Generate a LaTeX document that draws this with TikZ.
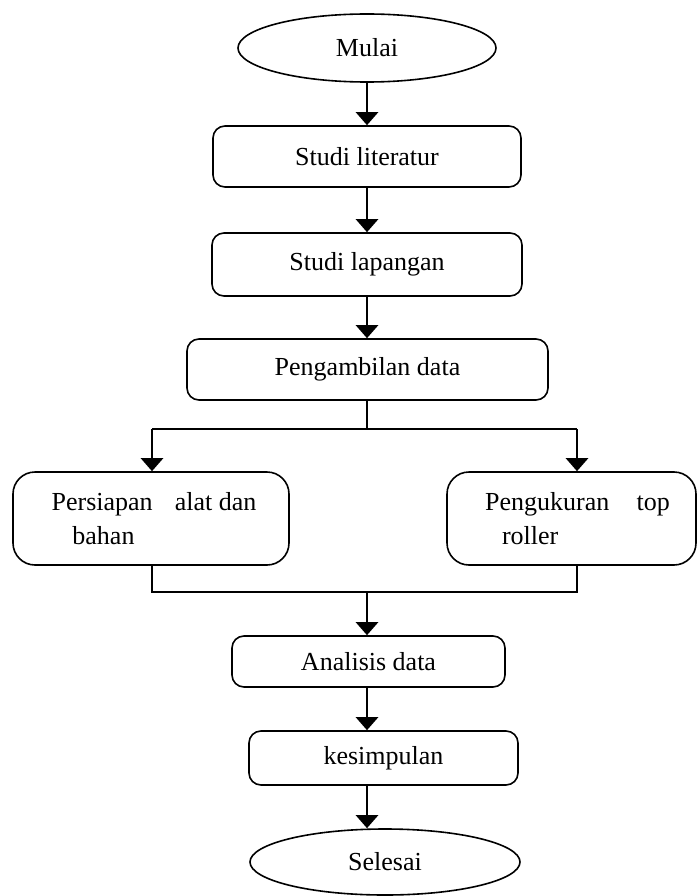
\documentclass[tikz,border=0pt]{standalone}
\usepackage{fontspec}
\setmainfont{Liberation Serif}
\usetikzlibrary{shapes.geometric, arrows.meta}
\tikzstyle{every node}=[font=\fontsize{26}{34}\selectfont, inner sep=0pt]
\tikzstyle{terminal}=[ellipse, draw, line width=1.6pt]
\tikzstyle{process}=[rectangle, rounded corners=12pt, draw, line width=1.6pt]
\tikzstyle{branch}=[rectangle, rounded corners=22pt, draw, line width=1.6pt, align=left]
\tikzstyle{flow}=[line width=2.6pt, -{Triangle[width=22pt, length=13pt]}]
\tikzstyle{link}=[line width=1.6pt]

\begin{document}
\begin{tikzpicture}[x=1pt, y=-1pt]
    \useasboundingbox (0,0) rectangle (697,896);
% Terminals
    \node[terminal, minimum width=258pt, minimum height=68pt] (mulai) at (367,48) {Mulai};
    \node[terminal, minimum width=270pt, minimum height=66pt] (selesai) at (385,862) {Selesai};
% Process boxes
    \node[process, minimum width=308pt, minimum height=61pt] (literatur) at (367,156.5) {Studi literatur};
    \node[process, minimum width=310pt, minimum height=63pt] (lapangan) at (367,264.5) {Studi lapangan};
    \node[process, minimum width=361pt, minimum height=61pt] (ambil) at (367.5,369.5) {Pengambilan data};
    \node[branch, minimum width=276pt, minimum height=93pt] (persiapan) at (151,518.5)
        {\hspace*{6pt}Persiapan\hspace{0.85em}alat dan\\\hspace*{6pt}\hspace*{0.8em}bahan};
    \node[branch, minimum width=249pt, minimum height=93pt] (ukur) at (571.5,518.5)
        {\hspace*{12pt}Pengukuran\hspace{1.05em}top\\\hspace*{12pt}\hspace*{0.65em}roller};
    \node[process, minimum width=273pt, minimum height=51pt] (analisis) at (368.5,661.5) {Analisis data};
    \node[process, minimum width=269pt, minimum height=54pt] (kesimpulan) at (383.5,758) {kesimpulan};
% Junction points
    \coordinate (pisah) at (367,429);
    \coordinate (kiri) at (152,429);
    \coordinate (kanan) at (577,429);
    \coordinate (gabung) at (367,592);
% Flow arrows
    \draw[flow] (mulai) -- (literatur);
    \draw[flow] (literatur) -- (lapangan);
    \draw[flow] (lapangan) -- (ambil.north -| lapangan);
    \draw[link] (ambil.south -| pisah) -- (pisah);
    \draw[link] (kiri) -- (kanan);
    \draw[flow] (kiri) -- (persiapan.north -| kiri);
    \draw[flow] (kanan) -- (ukur.north -| kanan);
    \draw[link] (persiapan.south -| kiri) |- (gabung) -| (ukur.south -| kanan);
    \draw[flow] (gabung) -- (analisis.north -| gabung);
    \draw[flow] (analisis.south -| gabung) -- (kesimpulan.north -| gabung);
    \draw[flow] (kesimpulan.south -| gabung) -- (selesai.north -| gabung);
\end{tikzpicture}
\end{document}
